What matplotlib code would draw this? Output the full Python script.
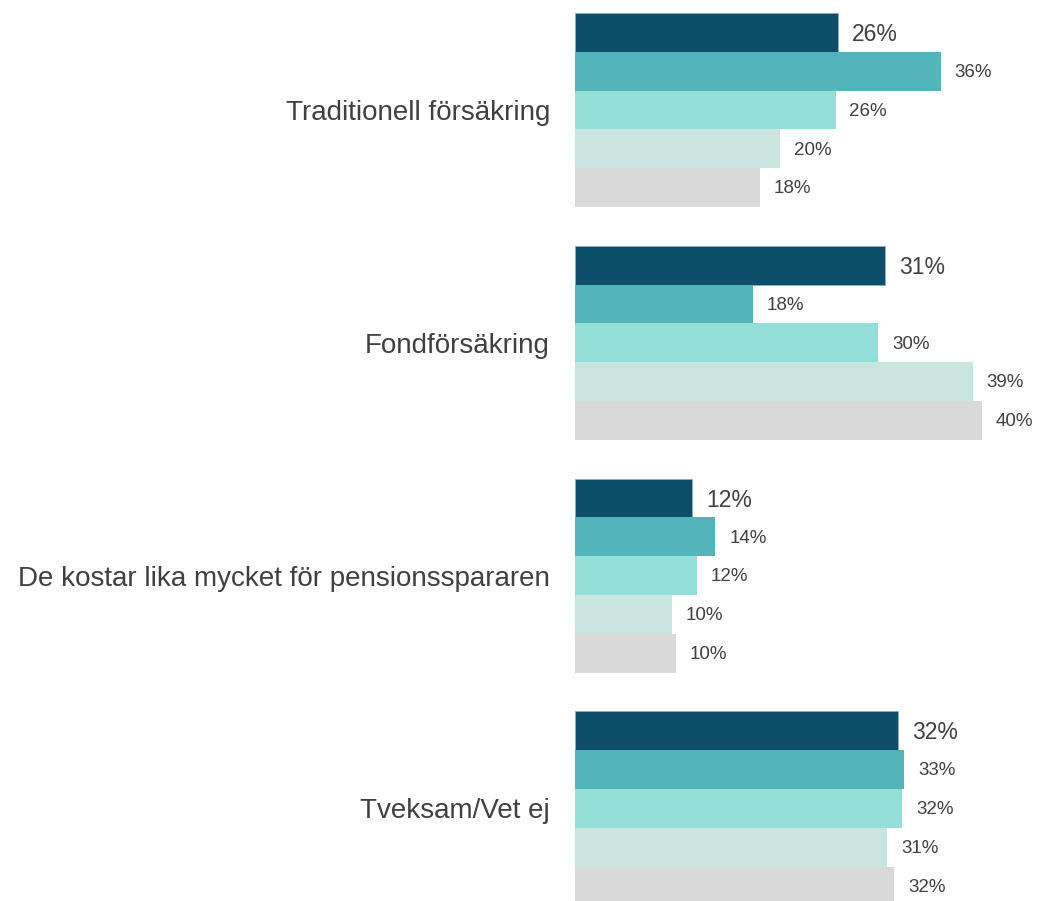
import numpy as np
import matplotlib
matplotlib.use('Agg')
import matplotlib.pyplot as plt

plt.rcParams['font.family'] = ['Liberation Sans', 'DejaVu Sans']

categories = ['Traditionell försäkring', 'Fondförsäkring',
              'De kostar lika mycket för pensionsspararen', 'Tveksam/Vet ej']

# one list per series (5 bars per category), values in percent
serie1 = [26.0, 30.7, 11.6, 32.0]
serie2 = [36.2, 17.6, 13.9, 32.6]
serie3 = [25.8, 30.0, 12.1, 32.4]
serie4 = [20.3, 39.4, 9.6, 30.9]
serie5 = [18.3, 40.3, 10.0, 31.6]

series = [serie1, serie2, serie3, serie4, serie5]
colors = ['#0D4E6B', '#52B5BA', '#93DFD8', '#C9E5E0', '#D9D9D9']
textcol = '#404040'

fig = plt.figure(figsize=(10.37, 9.01), dpi=100)
ax = fig.add_axes([575 / 1037, 0, 462 / 1037, 1])

N = len(categories)
step = 6
ind = np.arange(N) * step

for j, vals in enumerate(series):
    y = ind + j
    if j == 0:
        ax.barh(y, vals, height=1, color=colors[j], edgecolor='#8FB0BF', linewidth=0.6)
    else:
        ax.barh(y, vals, height=1, color=colors[j], linewidth=0)
    for yy, v in zip(y, vals):
        if j == 0:
            ax.annotate('%.0f%%' % v, (v, yy), xytext=(10, -1.5), textcoords='offset points',
                        va='center', ha='left', fontsize=16.5, color=textcol)
        else:
            ax.annotate('%.0f%%' % v, (v, yy), xytext=(10, -1), textcoords='offset points',
                        va='center', ha='left', fontsize=13.5, color=textcol)

ax.set_xlim(0, 462 / 10.1)
ax.set_ylim(-0.5 + (901 - 13) / 38.8, -0.5 - 13 / 38.8)

ax.set_yticks(ind + 2)
ax.set_yticklabels(categories, fontsize=20, color=textcol)
ax.tick_params(axis='y', length=0, pad=18)
ax.set_xticks([])
for s in ax.spines.values():
    s.set_visible(False)

fig.savefig('out.png', dpi=100)
